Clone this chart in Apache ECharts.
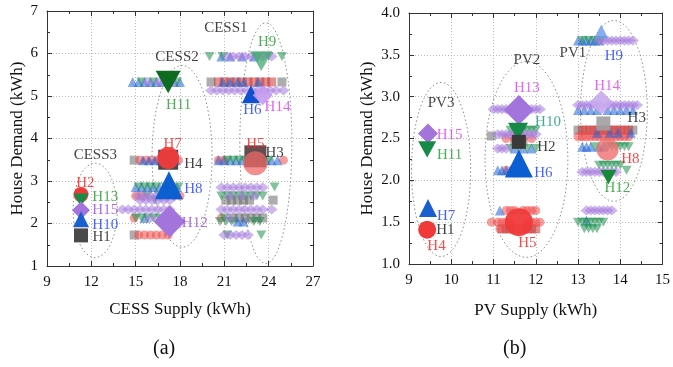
<!DOCTYPE html>
<html><head><meta charset="utf-8">
<script src="https://cdn.jsdelivr.net/npm/echarts@6/dist/echarts.min.js"></script>
<style>html,body{margin:0;padding:0;background:#fff}#c{width:673px;height:367px}</style>
</head><body><div id="c"></div>
<script>
// ---------- Panel (a): CESS Supply vs House Demand ----------
// each row: [House Demand, [CESS Supply values ...]]
const cessSquares = [
  [3.49, [14.9]], [1.73, [14.9]], [5.33, [20.1, 24.9]],
  [2.55, [21.1, 21.5, 21.9, 22.3, 22.7, 24.3]],
  [2.13, [21.6, 22.0, 22.4, 22.8, 23.2, 23.6]]
];
const cessRedSquares = [
  [5.33, [20.6, 21.0, 21.4, 21.8, 22.2, 22.6, 23.0, 23.4, 23.8, 24.2]]
];
const cessCircles = [
  [3.49, [15.3, 15.7, 16.1, 16.5, 16.9, 17.5, 17.9, 20.6, 21.0, 25.0]],
  [2.65, [15.0, 15.4, 17.6, 18.0]],
  [2.13, [14.9, 17.0, 20.8]],
  [1.73, [15.2, 15.6, 16.0, 16.4, 16.8, 17.2]]
];
const cessTriangles = [
  [5.33, [14.8, 15.2, 15.6, 16.0, 16.4, 16.8, 17.6, 18.0, 20.9, 21.4, 21.9, 22.3, 23.3]],
  [5.93, [20.8, 21.4, 22.2, 23.0]],
  [3.49, [15.5, 15.9, 16.3, 16.7, 17.7, 20.6, 21.0, 21.4, 21.8, 22.2, 22.6, 23.4, 23.8, 24.2, 24.6]],
  [2.86, [15.0, 15.4, 15.8, 16.2, 16.6, 17.8]],
  [2.13, [15.6]],
  [2.05, [21.9, 22.3]]
];
const cessDownTriangles = [
  [5.33, [15.4, 16.2, 17.0, 17.8]],
  [5.93, [20.0, 20.9, 23.3, 24.0, 24.9]],
  [3.49, [21.2, 21.6, 22.0, 22.4, 22.8, 23.2, 23.6, 24.0]],
  [2.86, [15.2, 15.6, 16.0, 16.4, 17.0, 17.9, 24.4]],
  [2.65, [15.8, 16.6, 20.8, 21.2, 21.6, 22.0, 22.4, 22.8, 23.2, 23.6]],
  [2.55, [16.3]],
  [2.13, [15.0, 15.4, 15.8, 16.2, 16.6, 21.0]],
  [2.05, [20.7, 21.1, 21.5, 23.0, 23.4]],
  [1.73, [21.2, 23.5]]
];
const cessDiamonds = [
  [5.33, [15.8, 16.6, 17.4]],
  [5.93, [21.2, 21.6, 22.0, 22.4, 22.8, 23.6, 24.2]],
  [5.13, [20.1, 20.5, 20.9, 21.3, 21.7, 22.1, 22.5, 22.9, 23.3, 23.7, 24.1, 24.5, 25.0]],
  [2.85, [20.8, 21.2, 21.6, 22.0, 22.4, 22.8, 23.2, 23.6]],
  [2.65, [15.2, 15.6, 16.0, 16.4, 16.8, 17.2, 17.6, 21.4, 22.2, 23.0]],
  [2.55, [15.3, 15.7, 16.1, 16.5, 16.9, 17.3]],
  [2.33, [14.1, 14.5, 14.9, 15.3, 15.7, 16.1, 16.5, 16.9, 17.3, 20.8, 21.2, 21.6, 22.0, 22.4, 22.8, 23.2, 23.6, 24.2]],
  [2.13, [16.0, 16.8, 21.3]],
  [1.73, [21.0, 21.4, 21.8, 22.2, 22.6]]
];
// highlighted houses: [house, CESS Supply, House Demand]
const cessHouses = [
  ['H4', 17.2, 3.50], ['H7', 17.2, 3.54], ['H11', 17.2, 5.33], ['H8', 17.25, 2.90], ['H12', 17.3, 2.05],
  ['H9', 23.5, 5.82], ['H6', 22.8, 5.04], ['H14', 23.6, 5.02], ['H3', 23.1, 3.58], ['H5', 23.1, 3.42],
  ['H2', 11.3, 2.68], ['H13', 11.3, 2.55], ['H15', 11.3, 2.31], ['H10', 11.3, 2.10], ['H1', 11.3, 1.72]
];
const cessTexts = [
  ['CESS1', 21.1, 6.59], ['CESS2', 17.8, 5.92], ['CESS3', 12.27, 3.61],
  ['H2', 11.6, 2.94], ['H13', 12.94, 2.62], ['H15', 12.94, 2.31], ['H10', 12.94, 1.97], ['H1', 12.7, 1.67],
  ['H7', 17.5, 3.88], ['H4', 18.9, 3.41], ['H8', 18.9, 2.80], ['H12', 19.0, 2.01], ['H11', 17.9, 4.78],
  ['H9', 23.9, 6.28], ['H6', 22.9, 4.67], ['H14', 24.6, 4.75], ['H5', 23.1, 3.87], ['H3', 24.4, 3.66]
];
// groups: [name, centre supply, centre demand, half-width, half-height]
const cessGroups = [
  ['CESS1', 23.81, 3.89, 1.76, 2.83], ['CESS2', 18.14, 3.58, 2.03, 2.14], ['CESS3', 12.26, 2.31, 1.49, 1.11]
];

// ---------- Panel (b): PV Supply vs House Demand ----------
const pvSquares = [
  [2.53, [10.95]], [2.46, [11.5, 11.7]], [2.60, [13.0, 14.3]]
];
const pvRedSquares = [
  [1.42, [11.2, 11.3, 11.4, 11.5, 11.7, 11.8, 11.9, 12.0]],
  [2.60, [13.1, 13.2, 13.3, 13.4, 13.5, 13.6, 13.7, 13.8, 13.9, 14.0, 14.1, 14.2]]
];
const pvCircles = [
  [2.50, [11.3, 11.5, 11.7, 11.9]],
  [2.12, [11.3]],
  [1.64, [11.3, 11.4, 11.5, 11.7, 11.8, 11.9, 12.0]],
  [1.50, [10.95, 11.1, 11.2, 11.3, 11.4, 11.8, 11.9, 12.0, 12.1]],
  [1.42, [11.15]],
  [2.52, [13.0, 13.1, 13.2, 13.3, 13.4, 13.5, 13.6, 13.7, 13.8, 13.9, 14.0, 14.1, 14.2]]
];
const pvTriangles = [
  [2.38, [11.5, 11.7, 11.9]],
  [2.12, [11.1, 11.2, 11.3, 11.4, 11.5]],
  [1.64, [11.15]],
  [3.67, [13.0, 13.1, 13.2, 13.3, 13.4, 13.5]],
  [2.84, [13.0, 13.15, 13.3, 13.45, 13.7, 13.85, 14.0, 14.15, 14.3]],
  [2.57, [13.45, 13.75, 13.95, 14.25]],
  [2.40, [13.1, 13.2, 13.3, 13.5, 13.6]],
  [1.52, [13.2]]
];
const pvDownTriangles = [
  [2.60, [11.4, 11.5, 11.6, 11.7, 11.8, 11.9, 12.0]],
  [2.38, [11.4, 11.6, 11.8, 12.0]],
  [3.67, [13.1, 13.25, 13.4, 13.55]],
  [2.40, [13.4, 13.7, 13.8, 13.9, 14.0, 14.1, 14.2]],
  [2.18, [13.5, 13.6, 13.7, 13.8, 13.9, 14.0]],
  [2.12, [14.15]],
  [1.50, [13.0, 13.1, 13.2, 13.3, 13.4, 13.5, 13.6]],
  [1.42, [13.15, 13.25, 13.35, 13.45]]
];
const pvDiamonds = [
  [2.85, [11.0, 11.1, 11.2, 11.3, 11.4, 11.5, 11.7, 11.8, 11.9, 12.0, 12.1]],
  [2.55, [11.1, 11.2, 11.3, 11.4, 11.5, 11.6, 11.7, 11.8, 11.9, 12.0]],
  [2.38, [11.1, 11.2, 11.3]],
  [3.67, [13.5, 13.6, 13.7, 13.8, 13.9, 14.0, 14.1, 14.2, 14.3]],
  [2.90, [13.0, 13.1, 13.2, 13.3, 13.4, 13.5, 13.7, 13.8, 13.9, 14.0, 14.1, 14.2, 14.3, 14.4]],
  [2.10, [13.1, 13.2, 13.3, 13.4, 13.5, 13.6, 13.7, 13.8, 13.9]],
  [1.64, [13.2, 13.3, 13.4, 13.5, 13.6, 13.7, 13.8]]
];
const pvHouses = [
  ['H15', 9.45, 2.56], ['H11', 9.43, 2.37], ['H7', 9.45, 1.67], ['H1', 9.43, 1.41], ['H4', 9.43, 1.41],
  ['H13', 11.6, 2.84], ['H10', 11.58, 2.58], ['H2', 11.6, 2.46], ['H6', 11.6, 2.20], ['H5', 11.6, 1.50],
  ['H9', 13.55, 3.78], ['H14', 13.55, 2.93], ['H3', 13.6, 2.68], ['H8', 13.7, 2.37], ['H12', 13.72, 2.04]
];
const pvTexts = [
  ['PV1', 12.88, 3.52], ['PV2', 11.79, 3.44], ['PV3', 9.76, 2.92],
  ['H15', 9.96, 2.54], ['H11', 9.96, 2.30], ['H7', 9.88, 1.57], ['H1', 9.86, 1.40], ['H4', 9.65, 1.22],
  ['H13', 11.79, 3.10], ['H10', 12.29, 2.70], ['H2', 12.25, 2.40], ['H6', 12.18, 2.09], ['H5', 11.8, 1.25],
  ['H9', 13.85, 3.48], ['H14', 13.69, 3.13], ['H3', 14.39, 2.74], ['H8', 14.24, 2.25], ['H12', 13.93, 1.91]
];
const pvGroups = [
  ['PV1', 13.85, 2.83, 0.79, 1.08], ['PV2', 11.78, 2.25, 0.98, 1.17], ['PV3', 9.76, 2.13, 0.70, 1.04]
];

const cessXTicks = {min: 9, max: 27, interval: 3};
const cessYTicks = {min: 1, max: 7, interval: 1};
const pvXTicks = {min: 9, max: 15, interval: 1};
const pvYTicks = {min: 1, max: 4, interval: 0.5};

// ---------- styles ----------
const SERIF = 'Liberation Serif';
const C = {red: '#ff1a1a', green: '#1f9a2a', blue: '#1a3cff', purple: '#a046e0', magenta: '#dc3cf6', black: '#111', teal: '#15997a'};
const fam = {
  sq: {symbol: 'rect', color: '#6a6a6a'},
  sqr: {symbol: 'rect', color: '#c83434'},
  ci: {symbol: 'circle', color: '#f04848'},
  tr: {symbol: 'triangle', color: '#1f62d6'},
  dn: {symbol: 'path://M0,0 L10,0 L5,9 Z', color: '#1f8f4f'},
  di: {symbol: 'diamond', color: '#a57bdc'}
};
const houseStyleA = {
  H4: ['sq', 20, '#4a4a4a', 1], H7: ['ci', 22, '#f03a3a', 0.95], H11: ['dn', 25, '#0d6b22', 1], H8: ['tr', 28, '#0b5fd0', 1],
  H12: ['di', 32, '#a274dc', 1], H9: ['dn', 22, '#46a870', 0.75], H6: ['tr', 18, '#1050d0', 1], H14: ['di', 20, '#c49af0', 0.9],
  H3: ['sq', 22, '#5a4444', 0.95], H5: ['ci', 24, '#f06a6a', 0.75], H2: ['ci', 15, '#f03a3a', 1], H13: ['dn', 15, '#178a48', 1],
  H15: ['di', 18, '#a274dc', 1], H10: ['tr', 16, '#1a5fd0', 1], H1: ['sq', 14, '#4a4a4a', 1]
};
const houseStyleB = {
  H15: ['di', 20, '#a274dc', 1], H11: ['dn', 18, '#178a48', 1], H7: ['tr', 18, '#1a5fd0', 1], H1: ['sq', 12, '#4a4a4a', 1],
  H4: ['ci', 18, '#f03a3a', 1], H13: ['di', 30, '#a274dc', 1], H10: ['dn', 20, '#178a48', 1], H2: ['sq', 14, '#3a3a3a', 1],
  H6: ['tr', 28, '#0b5fd0', 1], H5: ['ci', 28, '#f03a3a', 0.95], H9: ['tr', 14, '#6a9ae8', 0.8], H14: ['di', 24, '#c8aaee', 0.9],
  H3: ['sq', 14, '#a0a0a0', 0.9], H8: ['ci', 22, '#f07070', 0.8], H12: ['dn', 16, '#178a3a', 1]
};
const textColorA = {
  CESS1: C.black, CESS2: C.black, CESS3: C.black, H2: C.red, H13: C.green, H15: C.purple, H10: C.blue, H1: C.black,
  H7: C.red, H4: C.black, H8: C.blue, H12: C.purple, H11: C.green, H9: C.green, H6: C.blue, H14: C.magenta, H5: C.red, H3: C.black
};
const textColorB = {
  PV1: C.black, PV2: C.black, PV3: C.black, H15: C.magenta, H11: C.green, H7: C.blue, H1: C.black, H4: C.red,
  H13: C.magenta, H10: C.teal, H2: C.black, H6: C.blue, H5: C.red, H9: C.blue, H14: C.magenta, H3: C.black, H8: C.red, H12: C.green
};

const flat = rows => rows.flatMap(([y, xs]) => xs.map(x => [x, y]));

function small(ax, rows, f, size) {
  return {type: 'scatter', xAxisIndex: ax, yAxisIndex: ax, data: flat(rows), symbol: fam[f].symbol,
    symbolSize: f === 'dn' ? [size, size * 0.9] : (f === 'di' ? [size, size * 0.85] : size), silent: true,
    itemStyle: {color: fam[f].color, opacity: 0.55}};
}
function houses(ax, list, styles) {
  return list.map(([h, x, y]) => {
    const [f, s, col, op] = styles[h];
    return {type: 'scatter', xAxisIndex: ax, yAxisIndex: ax, data: [[x, y]], symbol: fam[f].symbol,
      symbolSize: f === 'dn' ? [s, s * 0.9] : s, silent: true, z: 3, itemStyle: {color: col, opacity: op}};
  });
}
function texts(ax, list, colors) {
  return {type: 'scatter', xAxisIndex: ax, yAxisIndex: ax, symbolSize: 1, silent: true, z: 5,
    itemStyle: {color: 'rgba(0,0,0,0)'},
    data: list.map(([t, x, y]) => ({value: [x, y], name: t,
      label: {show: true, position: 'inside', formatter: t, color: colors[t], fontFamily: SERIF, fontSize: 15}}))};
}

function axis(kind, ticks, gridIndex, main, extra) {
  return Object.assign({
    type: 'value', gridIndex, min: ticks.min, max: ticks.max, interval: ticks.interval,
    axisLine: {show: true, onZero: false, lineStyle: {color: '#333', width: 1}},
    axisTick: {show: true, inside: true, length: 5, lineStyle: {color: '#333'}},
    minorTick: {show: true, splitNumber: 2, length: 3, lineStyle: {color: '#333'}},
    axisLabel: {show: main, fontFamily: SERIF, fontSize: 15, color: '#111', margin: 9},
    splitLine: {show: main, lineStyle: {color: '#bbb', type: [1, 2]}}
  }, extra);
}
const nameStyle = {fontFamily: SERIF, fontSize: 17, color: '#111'};

const chart = echarts.init(document.getElementById('c'), null, {renderer: 'canvas'});
const option = {
  animation: false,
  grid: [
    {left: 47, top: 11, width: 266, height: 255},
    {left: 409, top: 13, width: 257, height: 251}
  ],
  xAxis: [
    axis('x', cessXTicks, 0, true, {position: 'bottom', name: 'CESS Supply (kWh)', nameLocation: 'middle', nameGap: 35, nameTextStyle: nameStyle}),
    axis('x', cessXTicks, 0, false, {position: 'top'}),
    axis('x', pvXTicks, 1, true, {position: 'bottom', name: 'PV Supply (kWh)', nameLocation: 'middle', nameGap: 38, nameTextStyle: nameStyle}),
    axis('x', pvXTicks, 1, false, {position: 'top'})
  ],
  yAxis: [
    axis('y', cessYTicks, 0, true, {position: 'left', name: 'House Demand (kWh)', nameLocation: 'middle', nameGap: 21, nameTextStyle: nameStyle}),
    axis('y', cessYTicks, 0, false, {position: 'right'}),
    axis('y', pvYTicks, 1, true, {position: 'left', name: 'House Demand (kWh)', nameLocation: 'middle', nameGap: 33, nameTextStyle: nameStyle,
      axisLabel: {fontFamily: SERIF, fontSize: 15, color: '#111', margin: 9, formatter: v => v.toFixed(1)}}),
    axis('y', pvYTicks, 1, false, {position: 'right'})
  ],
  series: [
    small(0, cessSquares, 'sq', 9), small(0, cessRedSquares, 'sqr', 9), small(0, cessCircles, 'ci', 9),
    small(0, cessTriangles, 'tr', 10), small(0, cessDownTriangles, 'dn', 10), small(0, cessDiamonds, 'di', 12),
    ...houses(0, cessHouses, houseStyleA), texts(0, cessTexts, textColorA),
    small(2, pvSquares, 'sq', 9), small(2, pvRedSquares, 'sqr', 9), small(2, pvCircles, 'ci', 9),
    small(2, pvTriangles, 'tr', 10), small(2, pvDownTriangles, 'dn', 10), small(2, pvDiamonds, 'di', 12),
    ...houses(2, pvHouses, houseStyleB), texts(2, pvTexts, textColorB)
  ]
};
chart.setOption(option);

function ellipses(ax, groups) {
  return groups.map(([n, cx, cy, hw, hh]) => {
    const c = chart.convertToPixel({xAxisIndex: ax, yAxisIndex: ax}, [cx, cy]);
    const e = chart.convertToPixel({xAxisIndex: ax, yAxisIndex: ax}, [cx + hw, cy + hh]);
    return {type: 'ellipse', silent: true, z: 1,
      shape: {cx: c[0], cy: c[1], rx: Math.abs(e[0] - c[0]), ry: Math.abs(c[1] - e[1])},
      style: {fill: 'none', stroke: '#8a8a8a', lineWidth: 1, lineDash: [1.5, 2.5]}};
  });
}
chart.setOption({graphic: [
  ...ellipses(0, cessGroups), ...ellipses(2, pvGroups),
  {type: 'text', left: 153, top: 339, style: {text: '(a)', font: '20px "Liberation Serif"', fill: '#111'}},
  {type: 'text', left: 503, top: 339, style: {text: '(b)', font: '20px "Liberation Serif"', fill: '#111'}}
]});
</script></body></html>
